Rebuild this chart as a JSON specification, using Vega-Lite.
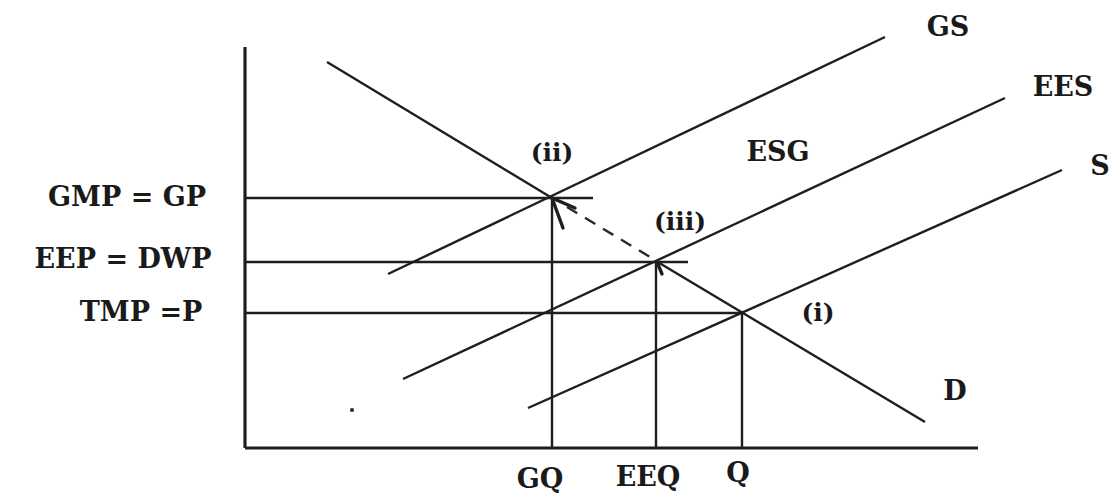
{
  "$schema": "https://vega.github.io/schema/vega-lite/v6.json",
  "width": 1113,
  "height": 493,
  "padding": 0,
  "autosize": {"type": "fit", "contains": "padding"},
  "background": "white",
  "config": {"view": {"stroke": null}},
  "datasets": {
    "segs": [
      {"seg": "yaxis", "kind": "axis", "q": 0, "p": 401, "o": 0},
      {"seg": "yaxis", "kind": "axis", "q": 0, "p": 0, "o": 1},
      {"seg": "xaxis", "kind": "axis", "q": 0, "p": 0, "o": 0},
      {"seg": "xaxis", "kind": "axis", "q": 733, "p": 0, "o": 1},
      {"seg": "D1", "kind": "curve", "q": 82, "p": 386, "o": 0},
      {"seg": "D1", "kind": "curve", "q": 307, "p": 250, "o": 1},
      {"seg": "D2", "kind": "curve", "q": 411, "p": 187, "o": 0},
      {"seg": "D2", "kind": "curve", "q": 680, "p": 26, "o": 1},
      {"seg": "GS", "kind": "curve", "q": 143, "p": 174, "o": 0},
      {"seg": "GS", "kind": "curve", "q": 640, "p": 411, "o": 1},
      {"seg": "EES", "kind": "curve", "q": 158, "p": 69, "o": 0},
      {"seg": "EES", "kind": "curve", "q": 760, "p": 350, "o": 1},
      {"seg": "S", "kind": "curve", "q": 283, "p": 40, "o": 0},
      {"seg": "S", "kind": "curve", "q": 817, "p": 278, "o": 1},
      {"seg": "GP", "kind": "curve", "q": 0, "p": 250, "o": 0},
      {"seg": "GP", "kind": "curve", "q": 348, "p": 250, "o": 1},
      {"seg": "DWP", "kind": "curve", "q": 0, "p": 186, "o": 0},
      {"seg": "DWP", "kind": "curve", "q": 443, "p": 186, "o": 1},
      {"seg": "P", "kind": "curve", "q": 0, "p": 135, "o": 0},
      {"seg": "P", "kind": "curve", "q": 497, "p": 135, "o": 1},
      {"seg": "GQ", "kind": "curve", "q": 307, "p": 250, "o": 0},
      {"seg": "GQ", "kind": "curve", "q": 307, "p": 0, "o": 1},
      {"seg": "EEQ", "kind": "curve", "q": 411, "p": 186, "o": 0},
      {"seg": "EEQ", "kind": "curve", "q": 411, "p": 0, "o": 1},
      {"seg": "Q", "kind": "curve", "q": 497, "p": 135, "o": 0},
      {"seg": "Q", "kind": "curve", "q": 497, "p": 0, "o": 1},
      {"seg": "move", "kind": "dash", "q": 322, "p": 241, "o": 0},
      {"seg": "move", "kind": "dash", "q": 405, "p": 191, "o": 1},
      {"seg": "arr1", "kind": "arrow", "q": 307, "p": 250, "o": 0},
      {"seg": "arr1", "kind": "arrow", "q": 318, "p": 220, "o": 1},
      {"seg": "arr2", "kind": "arrow", "q": 307, "p": 250, "o": 0},
      {"seg": "arr2", "kind": "arrow", "q": 330, "p": 240, "o": 1},
      {"seg": "arr3", "kind": "arrow", "q": 412, "p": 186, "o": 0},
      {"seg": "arr3", "kind": "arrow", "q": 417, "p": 174, "o": 1}
    ],
    "labels": [
      {"t": "GMP = GP", "size": "big", "q": -118, "p": 250},
      {"t": "EEP = DWP", "size": "big", "q": -122, "p": 188},
      {"t": "TMP =P", "size": "big", "q": -104, "p": 135},
      {"t": "GQ", "size": "big", "q": 295, "p": -32},
      {"t": "EEQ", "size": "big", "q": 403, "p": -30},
      {"t": "Q", "size": "big", "q": 493, "p": -26},
      {"t": "GS", "size": "big", "q": 703, "p": 420},
      {"t": "EES", "size": "big", "q": 818, "p": 360},
      {"t": "S", "size": "big", "q": 855, "p": 281},
      {"t": "D", "size": "big", "q": 710, "p": 56},
      {"t": "ESG", "size": "big", "q": 533, "p": 295},
      {"t": "(ii)", "size": "small", "q": 307, "p": 295},
      {"t": "(iii)", "size": "small", "q": 435, "p": 226},
      {"t": "(i)", "size": "small", "q": 573, "p": 135}
    ],
    "dots": [
      {"q": 107, "p": 38}
    ]
  },
  "layer": [
    {
      "data": {"name": "segs"},
      "transform": [{"filter": "datum.kind == 'axis'"}],
      "mark": {"type": "line", "color": "#1e1e1e", "strokeWidth": 3.2, "strokeCap": "butt"},
      "encoding": {
        "x": {"field": "q", "type": "quantitative", "scale": {"domain": [-245, 868], "nice": false, "zero": false}, "axis": null},
        "y": {"field": "p", "type": "quantitative", "scale": {"domain": [-45, 448], "nice": false, "zero": false}, "axis": null},
        "detail": {"field": "seg"},
        "order": {"field": "o"}
      }
    },
    {
      "data": {"name": "segs"},
      "transform": [{"filter": "datum.kind == 'curve'"}],
      "mark": {"type": "line", "color": "#1e1e1e", "strokeWidth": 2.4},
      "encoding": {
        "x": {"field": "q", "type": "quantitative"},
        "y": {"field": "p", "type": "quantitative"},
        "detail": {"field": "seg"},
        "order": {"field": "o"}
      }
    },
    {
      "data": {"name": "segs"},
      "transform": [{"filter": "datum.kind == 'dash'"}],
      "mark": {"type": "line", "color": "#2a2a2a", "strokeWidth": 2.4, "strokeDash": [12, 9]},
      "encoding": {
        "x": {"field": "q", "type": "quantitative"},
        "y": {"field": "p", "type": "quantitative"},
        "detail": {"field": "seg"},
        "order": {"field": "o"}
      }
    },
    {
      "data": {"name": "segs"},
      "transform": [{"filter": "datum.kind == 'arrow'"}],
      "mark": {"type": "line", "color": "#1e1e1e", "strokeWidth": 3.4, "strokeCap": "round"},
      "encoding": {
        "x": {"field": "q", "type": "quantitative"},
        "y": {"field": "p", "type": "quantitative"},
        "detail": {"field": "seg"},
        "order": {"field": "o"}
      }
    },
    {
      "data": {"name": "labels"},
      "transform": [{"filter": "datum.size == 'big'"}],
      "mark": {"type": "text", "font": "DejaVu Serif", "fontWeight": "bold", "fontSize": 27, "color": "#1a1a1a", "align": "center", "baseline": "middle"},
      "encoding": {
        "x": {"field": "q", "type": "quantitative"},
        "y": {"field": "p", "type": "quantitative"},
        "text": {"field": "t"}
      }
    },
    {
      "data": {"name": "labels"},
      "transform": [{"filter": "datum.size == 'small'"}],
      "mark": {"type": "text", "font": "DejaVu Serif", "fontWeight": "bold", "fontSize": 25, "color": "#1a1a1a", "align": "center", "baseline": "middle"},
      "encoding": {
        "x": {"field": "q", "type": "quantitative"},
        "y": {"field": "p", "type": "quantitative"},
        "text": {"field": "t"}
      }
    },
    {
      "data": {"name": "dots"},
      "mark": {"type": "point", "filled": true, "shape": "square", "size": 12, "color": "#222", "opacity": 1},
      "encoding": {
        "x": {"field": "q", "type": "quantitative"},
        "y": {"field": "p", "type": "quantitative"}
      }
    }
  ]
}
